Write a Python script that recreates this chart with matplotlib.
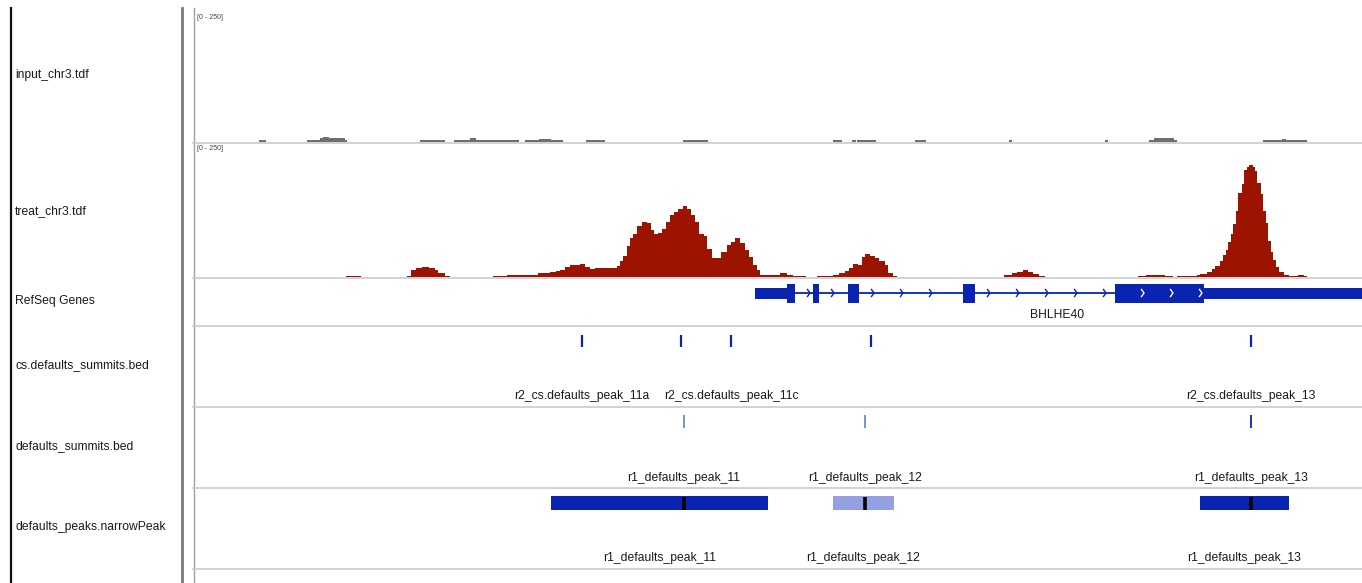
import numpy as np
import matplotlib
matplotlib.use("Agg")
import matplotlib.pyplot as plt
from matplotlib.lines import Line2D

# ---------------- data ----------------
track_names = ["input_chr3.tdf", "treat_chr3.tdf", "RefSeq Genes",
               "cs.defaults_summits.bed", "defaults_summits.bed",
               "defaults_peaks.narrowPeak"]
data_range = "[0 - 250]"

# input coverage (gray bars): start, end, value
input_start = [259, 307, 320, 323, 329, 345, 420, 454, 470, 476, 525, 539, 551, 586,
               683, 833, 852, 857, 915, 1009, 1105, 1149, 1154, 1174, 1263, 1282, 1286]
input_end = [266, 320, 323, 329, 345, 347, 445, 470, 476, 519, 539, 551, 563, 605,
             708, 842, 856, 876, 926, 1012, 1108, 1154, 1174, 1177, 1282, 1286, 1307]
input_value = [3, 4, 7, 9, 7, 4, 4, 4, 7, 4, 4, 6, 4, 4,
               4, 4, 4, 4, 4, 4, 4, 4, 8, 4, 4, 6, 4]

# treat coverage (step function): bin edges and values
treat_edges = [193, 346, 361, 407, 411, 416, 422, 429, 435, 438, 445, 450, 493, 507, 530,
               538, 550, 556, 560, 565, 570, 580, 585, 590, 595, 602, 608, 617, 620, 623,
               627, 630, 633, 637, 642, 647, 651, 654, 658, 662, 666, 670, 674, 678, 683,
               687, 691, 695, 699, 704, 707, 712, 717, 721, 727, 731, 735, 740, 745, 749,
               753, 757, 760, 780, 787, 793, 806, 817, 833, 839, 845, 849, 853, 858, 862,
               865, 870, 875, 879, 885, 888, 893, 897, 1004, 1012, 1017, 1023, 1028, 1033,
               1039, 1045, 1138, 1146, 1165, 1173, 1177, 1197, 1200, 1207, 1212, 1215, 1220,
               1223, 1226, 1228, 1231, 1233, 1236, 1238, 1242, 1244, 1247, 1249, 1253, 1255,
               1257, 1261, 1263, 1266, 1268, 1271, 1273, 1276, 1279, 1284, 1289, 1298, 1304,
               1307, 1362]
treat_values = [0, 2, 0, 2, 13, 16, 19, 17, 13, 8, 2, 0, 2, 4,
                4, 8, 9, 11, 13, 19, 23, 24, 19, 15, 16, 17, 17, 21, 30,
                39, 58, 73, 81, 96, 103, 100, 88, 81, 83, 90, 103, 115, 122, 126,
                132, 126, 115, 102, 81, 77, 53, 36, 36, 47, 60, 66, 73, 64, 51,
                38, 23, 13, 4, 7, 4, 2, 0, 2, 4, 8, 11, 16, 24, 23,
                38, 43, 39, 35, 30, 23, 8, 2, 0, 4, 8, 10, 13, 10,
                6, 2, 0, 1, 4, 1, 0, 1, 4, 6, 9, 14, 20,
                30, 41, 50, 65, 80, 99, 124, 156, 174, 199, 205, 209, 205,
                197, 175, 154, 124, 100, 68, 47, 32, 19, 9, 4, 1, 4,
                1, 0]

# RefSeq gene BHLHE40
gene_name = "BHLHE40"
exon_start = [755, 813, 848, 963, 1115]
exon_end = [795, 819, 859, 975, 1400]
cds_start, cds_end = 787, 1204

# cs.defaults_summits.bed
cs_pos = [582, 681, 731, 871, 1251]
cs_names = ["r2_cs.defaults_peak_11a", "r2_cs.defaults_peak_11b",
            "r2_cs.defaults_peak_11c", "r2_cs.defaults_peak_12",
            "r2_cs.defaults_peak_13"]

# defaults_summits.bed
sm_pos = [684, 865, 1251]
sm_names = ["r1_defaults_peak_11", "r1_defaults_peak_12", "r1_defaults_peak_13"]
sm_score = [300, 300, 1000]

# defaults_peaks.narrowPeak
pk_start = [551, 833, 1200]
pk_end = [768, 894, 1289]
pk_summit = [684, 865, 1251]
pk_names = ["r1_defaults_peak_11", "r1_defaults_peak_12", "r1_defaults_peak_13"]
pk_score = [1000, 300, 1000]

# ---------------- style ----------------
W, H = 1362, 583
FONT = ["Liberation Sans", "DejaVu Sans"]
FS = 8.7
BLUE = "#0a24b2"
LIGHT_BLUE = "#94a0e2"
SUMMIT_LIGHT = "#7086de"
RED = "#9c1400"
GRAY = "#6f6f6f"
SEP = "#c9c9d3"
X0 = 193

fig = plt.figure(figsize=(W / 100, H / 100), dpi=100)


def add_track(top, bottom):
    ax = fig.add_axes([X0 / W, 1 - bottom / H, (W - X0) / W, (bottom - top) / H])
    ax.set_xlim(X0, W)
    ax.axis("off")
    return ax


def hline(y):
    fig.add_artist(Line2D([X0 / W, 1], [1 - y / H, 1 - y / H], color=SEP, lw=1.2))


def vline(x, color, lw):
    fig.add_artist(Line2D([x / W, x / W], [0, 1 - 8 / H], color=color, lw=lw))


def shade(score):
    return BLUE if score >= 500 else LIGHT_BLUE


# frame lines
vline(10.5, "#111111", 1.6)
vline(182.5, "#7a7a7a", 2.0)
vline(193.5, "#a0a0a0", 1.0)

# track labels
label_y = [75, 211, 301, 365, 446, 527]
for name, y in zip(track_names, label_y):
    fig.text(15 / W, 1 - y / H, name, family=FONT, fontsize=FS, va="center",
             ha="left", color="#1a1a1a")

# input track
ax = add_track(10, 142)
ax.set_ylim(0, 250)
ax.bar(input_start, input_value, width=np.subtract(input_end, input_start),
       align="edge", color=GRAY, linewidth=0)
ax.text(X0 + 4, 243, data_range, family=FONT, fontsize=5.0, color="#444444",
        va="top", ha="left")
hline(142.5)

# treat track
ax = add_track(143, 277)
ax.set_ylim(0, 250)
ax.stairs(treat_values, treat_edges, fill=True, color=RED, linewidth=0)
ax.text(X0 + 4, 246, data_range, family=FONT, fontsize=5.0, color="#444444",
        va="top", ha="left")
hline(277.5)

# gene track (y in pixel offsets around gene centre)
ax = add_track(278, 325)
ax.set_ylim(-32, 15)
ax.plot([exon_end[0], exon_start[-1]], [0, 0], color=BLUE, lw=1.3,
        solid_capstyle="butt")
for s, e in zip(exon_start, exon_end):
    ax.fill_between([s, e], -5.5, 5.5, color=BLUE, linewidth=0)
    cs_, ce_ = max(s, cds_start), min(e, cds_end)
    if ce_ > cs_:
        ax.fill_between([cs_, ce_], -9.5, 9.5, color=BLUE, linewidth=0)
# strand arrows in introns (blue) and in coding exon (white)
for e, s in zip(exon_end[:-1], exon_start[1:]):
    for x in np.arange(e + 14, s - 3, 29):
        ax.plot([x - 1.5, x + 1.0, x - 1.5], [3.5, 0, -3.5], color=BLUE, lw=1.0)
for s, e in zip(exon_start, exon_end):
    cs_, ce_ = max(s, cds_start), min(e, cds_end)
    if ce_ - cs_ > 40:
        for x in np.arange(cs_ + 28, ce_, 29):
            ax.plot([x - 1.5, x + 1.0, x - 1.5], [3.5, 0, -3.5], color="white", lw=1.0)
ax.text((1031 + 1084) / 2, -22, gene_name, family=FONT, fontsize=FS, ha="center",
        va="center", color="#1a1a1a")
hline(325.5)


def place_labels(ax, xs, names, y, pad=15):
    last_end = -1e9
    for x, n in zip(xs, names):
        w = len(n) * 5.75
        if x - w / 2 < last_end + pad:
            continue
        ax.text(x, y, n, family=FONT, fontsize=FS, ha="center", va="center",
                color="#1a1a1a")
        last_end = x + w / 2


# cs summits track (y in pixels from track top, inverted)
ax = add_track(326, 406)
ax.set_ylim(80, 0)
ax.vlines(cs_pos, 9, 21, color=BLUE, lw=1.6)
place_labels(ax, cs_pos, cs_names, 70)
hline(406.5)

# defaults summits track
ax = add_track(407, 487)
ax.set_ylim(80, 0)
ax.vlines(sm_pos, 8, 21, color=[BLUE if s >= 500 else SUMMIT_LIGHT for s in sm_score],
          lw=1.3)
place_labels(ax, sm_pos, sm_names, 71)
hline(487.5)

# narrowPeak track
ax = add_track(488, 568)
ax.set_ylim(80, 0)
for s, e, sc in zip(pk_start, pk_end, pk_score):
    ax.fill_between([s, e], 8, 22, color=shade(sc), linewidth=0)
ax.vlines(pk_summit, 8.5, 21.5, color="black", lw=2.6)
place_labels(ax, [(s + e) / 2 for s, e in zip(pk_start, pk_end)], pk_names, 70)
hline(568.5)

fig.savefig("out.png", dpi=100, facecolor="white")
